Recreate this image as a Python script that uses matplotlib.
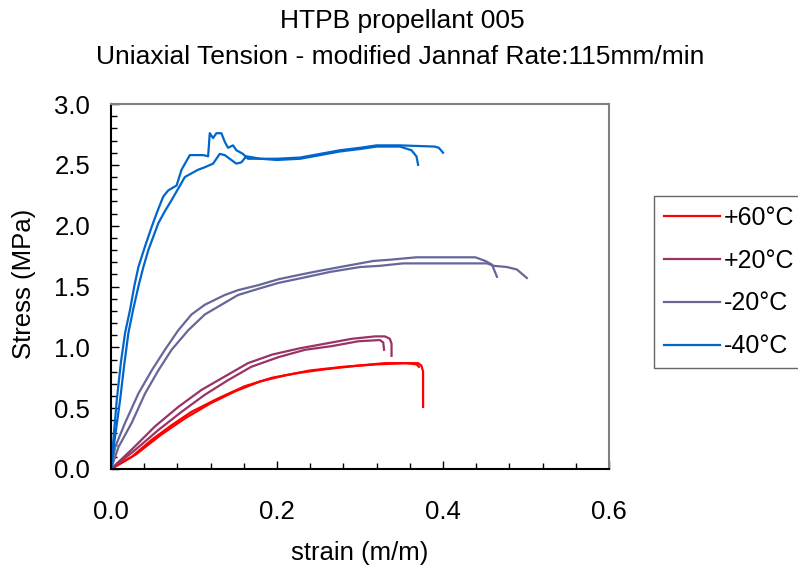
import matplotlib.pyplot as plt
from matplotlib.ticker import MultipleLocator

plt.rcParams['font.family'] = ['Liberation Sans', 'DejaVu Sans']

labels = ['+60°C', '+20°C', '-20°C', '-40°C']
colors = ['#ff0000', '#993366', '#666699', '#0066cc']

# two specimens per temperature
p60_a_x = [0, 0.025, 0.049, 0.073, 0.097, 0.129, 0.161, 0.194, 0.226, 0.258, 0.298, 0.33, 0.370, 0.374, 0.376, 0.376]
p60_a_y = [0, 0.10, 0.24, 0.36, 0.47, 0.58, 0.68, 0.75, 0.79, 0.82, 0.85, 0.87, 0.87, 0.85, 0.80, 0.51]
p60_b_x = [0, 0.03, 0.06, 0.09, 0.12, 0.15, 0.18, 0.21, 0.24, 0.28, 0.32, 0.355, 0.368, 0.371]
p60_b_y = [0, 0.12, 0.28, 0.42, 0.54, 0.64, 0.72, 0.77, 0.81, 0.84, 0.86, 0.87, 0.86, 0.84]

p20_a_x = [0, 0.025, 0.053, 0.081, 0.109, 0.137, 0.165, 0.194, 0.226, 0.258, 0.29, 0.318, 0.330, 0.336, 0.338, 0.338]
p20_a_y = [0, 0.16, 0.35, 0.51, 0.65, 0.76, 0.87, 0.94, 0.99, 1.03, 1.07, 1.09, 1.09, 1.07, 1.03, 0.93]
p20_b_x = [0, 0.028, 0.057, 0.085, 0.113, 0.141, 0.169, 0.202, 0.234, 0.266, 0.298, 0.324, 0.328, 0.329]
p20_b_y = [0, 0.15, 0.32, 0.47, 0.61, 0.73, 0.84, 0.92, 0.98, 1.01, 1.05, 1.06, 1.04, 0.98]

m20_a_x = [0, 0.005, 0.017, 0.033, 0.049, 0.065, 0.081, 0.097, 0.113, 0.137, 0.153, 0.177, 0.202, 0.23,
           0.252, 0.284, 0.316, 0.336, 0.368, 0.439, 0.451, 0.459, 0.465]
m20_a_y = [0, 0.18, 0.38, 0.62, 0.81, 0.98, 1.14, 1.27, 1.35, 1.43, 1.47, 1.51, 1.56, 1.60,
           1.63, 1.67, 1.71, 1.72, 1.74, 1.74, 1.71, 1.68, 1.58]
m20_b_x = [0, 0.009, 0.025, 0.041, 0.057, 0.073, 0.093, 0.113, 0.133, 0.153, 0.177, 0.202, 0.23, 0.264,
           0.3, 0.324, 0.352, 0.404, 0.453, 0.461, 0.477, 0.489, 0.501]
m20_b_y = [0, 0.18, 0.38, 0.62, 0.81, 0.98, 1.14, 1.27, 1.35, 1.43, 1.48, 1.53, 1.57, 1.62,
           1.66, 1.67, 1.69, 1.69, 1.69, 1.67, 1.66, 1.64, 1.57]

m40_a_x = [0, 0.003, 0.007, 0.012, 0.017, 0.023, 0.028, 0.033, 0.041, 0.049, 0.056, 0.063, 0.069, 0.079,
           0.085, 0.095, 0.111, 0.117, 0.119, 0.123, 0.127, 0.133, 0.137, 0.141, 0.147, 0.151, 0.159,
           0.165, 0.18, 0.2, 0.228, 0.252, 0.276, 0.3, 0.32, 0.348, 0.362, 0.368, 0.370]
m40_a_y = [0, 0.25, 0.57, 0.88, 1.12, 1.31, 1.50, 1.66, 1.83, 1.99, 2.12, 2.24, 2.29, 2.33,
           2.46, 2.58, 2.58, 2.57, 2.76, 2.72, 2.76, 2.76, 2.69, 2.64, 2.66, 2.62, 2.59,
           2.55, 2.55, 2.54, 2.55, 2.58, 2.61, 2.63, 2.65, 2.65, 2.62, 2.57, 2.50]
m40_b_x = [0, 0.004, 0.011, 0.016, 0.021, 0.027, 0.033, 0.039, 0.045, 0.057, 0.065, 0.073, 0.089, 0.097,
           0.105, 0.113, 0.123, 0.131, 0.137, 0.145, 0.151, 0.157, 0.163, 0.18, 0.2, 0.228, 0.252,
           0.276, 0.3, 0.32, 0.348, 0.39, 0.395, 0.40]
m40_b_y = [0, 0.22, 0.57, 0.86, 1.12, 1.32, 1.50, 1.66, 1.80, 2.02, 2.12, 2.21, 2.40, 2.43,
           2.46, 2.48, 2.51, 2.59, 2.58, 2.54, 2.51, 2.52, 2.57, 2.55, 2.55, 2.56, 2.59,
           2.62, 2.64, 2.66, 2.66, 2.65, 2.64, 2.60]

series = [
    [(p60_a_x, p60_a_y), (p60_b_x, p60_b_y)],
    [(p20_a_x, p20_a_y), (p20_b_x, p20_b_y)],
    [(m20_a_x, m20_a_y), (m20_b_x, m20_b_y)],
    [(m40_a_x, m40_a_y), (m40_b_x, m40_b_y)],
]

W, H = 798, 570
fig = plt.figure(figsize=(W / 100, H / 100), dpi=100)
ax = fig.add_axes([111 / W, 1 - 469 / H, 498 / W, 365 / H])

for i in range(len(series)):
    for j, (x, y) in enumerate(series[i]):
        ax.plot(x, y, color=colors[i], lw=1.6, label=labels[i] if j == 0 else None)

ax.set_xlim(0, 0.6)
ax.set_ylim(0, 3.0)
ax.xaxis.set_major_locator(MultipleLocator(0.2))
ax.xaxis.set_minor_locator(MultipleLocator(0.04))
ax.yaxis.set_major_locator(MultipleLocator(0.5))
ax.yaxis.set_minor_locator(MultipleLocator(0.1))
ax.xaxis.set_major_formatter(plt.FormatStrFormatter('%.1f'))
ax.yaxis.set_major_formatter(plt.FormatStrFormatter('%.1f'))
ax.tick_params(which='both', direction='in', color='black', width=1, labelsize=18.5)
ax.tick_params(which='major', length=6)
ax.tick_params(which='minor', length=4)
ax.tick_params(axis='x', which='major', pad=22)
ax.tick_params(axis='y', which='major', pad=15)

for s in ['left', 'bottom']:
    ax.spines[s].set_color('black')
    ax.spines[s].set_linewidth(1.5)
for s in ['top', 'right']:
    ax.spines[s].set_color('#808080')
    ax.spines[s].set_linewidth(1.5)

fig.text(402 / W, 1 - 21 / H, 'HTPB propellant 005', ha='center', va='center', fontsize=19)
fig.text(400 / W, 1 - 57 / H, 'Uniaxial Tension - modified Jannaf Rate:115mm/min',
         ha='center', va='center', fontsize=19)
fig.text(24 / W, 1 - 284 / H, 'Stress (MPa)', rotation=90, ha='center', va='center', fontsize=18.5)
fig.text(360 / W, 1 - 553 / H, 'strain (m/m)', ha='center', va='center', fontsize=18.5)

# legend box runs off the right edge, as in the original chart
leg = ax.legend(loc='upper left', bbox_to_anchor=(654 / W, 1 - 196 / H), bbox_transform=fig.transFigure,
                borderaxespad=0, fontsize=18, frameon=True, fancybox=False, handlelength=2.25,
                handletextpad=0.15, labelspacing=0.75, borderpad=0.4)
leg.get_frame().set_edgecolor('#404040')
leg.get_frame().set_linewidth(1.0)
for line in leg.get_lines():
    line.set_linewidth(1.6)

plt.savefig('out.png', dpi=100)
